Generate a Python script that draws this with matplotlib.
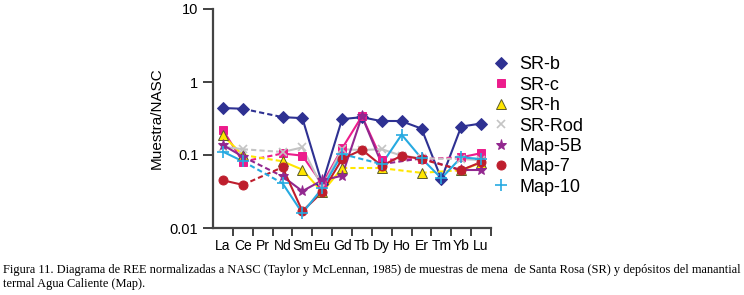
import matplotlib
matplotlib.use("Agg")
import matplotlib.pyplot as plt
from matplotlib.lines import Line2D
import numpy as np

plt.rcParams["font.family"] = ["Liberation Sans", "DejaVu Sans"]

elements = ["La", "Ce", "Pr", "Nd", "Sm", "Eu", "Gd", "Tb", "Dy", "Ho", "Er", "Tm", "Yb", "Lu"]
y_ticks = [0.01, 0.1, 1, 10]
y_tick_labels = ["0.01", "0.1", "1", "10"]

sr_b = [0.44, 0.43, None, 0.33, 0.32, 0.040, 0.31, 0.33, 0.29, 0.29, 0.23, 0.047, 0.245, 0.27]
sr_c = [0.22, 0.081, None, 0.105, 0.098, 0.040, 0.123, 0.34, 0.086, None, 0.088, None, 0.093, 0.106]
sr_h = [0.185, 0.10, None, 0.082, 0.063, 0.031, 0.066, None, 0.066, None, 0.057, None, 0.062, 0.078]
sr_rod = [0.13, 0.12, None, 0.11, 0.127, 0.036, 0.12, 0.117, 0.12, 0.098, 0.09, None, 0.088, 0.085]
map_5b = [0.137, 0.095, None, 0.051, 0.032, 0.045, 0.052, 0.34, 0.075, None, 0.09, None, 0.062, 0.062]
map_7 = [0.045, 0.039, None, 0.068, 0.017, 0.031, 0.088, 0.118, 0.071, 0.098, 0.088, None, 0.062, 0.08]
map_10 = [0.111, 0.082, None, 0.041, 0.016, 0.035, 0.103, None, 0.075, 0.19, 0.09, 0.048, 0.093, 0.088]

series = [
    ("SR-b", sr_b, "#2e3192", "D", "#2e3192", 6),
    ("SR-c", sr_c, "#ec1c8c", "s", "#ec1c8c", 6),
    ("SR-h", sr_h, "#ffe600", "^", "#5a5a2a", 6.5),
    ("SR-Rod", sr_rod, "#c4c4c4", "x", "#c4c4c4", 6),
    ("Map-5B", map_5b, "#92278f", "*", "#92278f", 8),
    ("Map-7", map_7, "#be1e2d", "o", "#be1e2d", 6.5),
    ("Map-10", map_10, "#27aae1", "+", "#27aae1", 8),
]

fig = plt.figure(figsize=(7.44, 2.95), dpi=100)
ax = fig.add_axes([213 / 744, 1 - 228 / 295, 278 / 744, 219 / 295])

x = np.arange(len(elements))
for name, vals, color, marker, edge, ms in series:
    idx = [i for i, v in enumerate(vals) if v is not None]
    for a, b in zip(idx[:-1], idx[1:]):
        ls = "-" if b - a == 1 else (0, (2.5, 1.5))
        ax.plot([x[a], x[b]], [vals[a], vals[b]], color=color, lw=1.5, ls=ls, zorder=2)
    ax.plot([x[i] for i in idx], [vals[i] for i in idx], ls="none", marker=marker,
            ms=ms, mfc=color, mec=edge, mew=1.2 if marker in "x+" else 0.7, zorder=3)

ax.set_yscale("log")
ax.set_ylim(0.01, 10)
ax.set_xlim(-0.5, 13.5)
ax.set_yticks(y_ticks)
ax.set_yticklabels(y_tick_labels)
ax.yaxis.set_minor_locator(matplotlib.ticker.NullLocator())
ax.set_xticks(x)
ax.set_xticklabels(elements)
ax.set_xticks(np.arange(0.5, 14, 1.0), minor=True)
ax.tick_params(axis="x", which="major", length=0, labelsize=10, pad=8)
ax.tick_params(axis="x", which="minor", length=6, width=1.3, color="#333333")
ax.tick_params(axis="y", which="major", length=7, width=1.3, color="#333333", labelsize=10.5)
for s in ["top", "right"]:
    ax.spines[s].set_visible(False)
for s in ["left", "bottom"]:
    ax.spines[s].set_linewidth(1.6)
    ax.spines[s].set_color("#444444")
ax.set_ylabel("Muestra/NASC", fontsize=11, labelpad=4)

handles = [Line2D([], [], ls="none", marker=m, ms=ms, mfc=c, mec=e,
                  mew=1.2 if m in "x+" else 0.7)
           for _, _, c, m, e, ms in series]
labels = [s[0] for s in series]
fig.legend(handles, labels, loc="upper left", bbox_to_anchor=(487 / 744, 1 - 49 / 295),
           frameon=False, fontsize=13, labelspacing=0.19, handlelength=0.8,
           handletextpad=0.6, borderaxespad=0)

cap1 = ("Figura 11. Diagrama de REE normalizadas a NASC (Taylor y McLennan, 1985) de muestras de mena  "
        "de Santa Rosa (SR) y depósitos del manantial")
cap2 = "termal Agua Caliente (Map)."
fig.text(3 / 744, 1 - 270 / 295, cap1, fontsize=8.95, family="Liberation Serif", va="center")
fig.text(3 / 744, 1 - 284 / 295, cap2, fontsize=8.95, family="Liberation Serif", va="center")

fig.savefig("out.png", dpi=100)
